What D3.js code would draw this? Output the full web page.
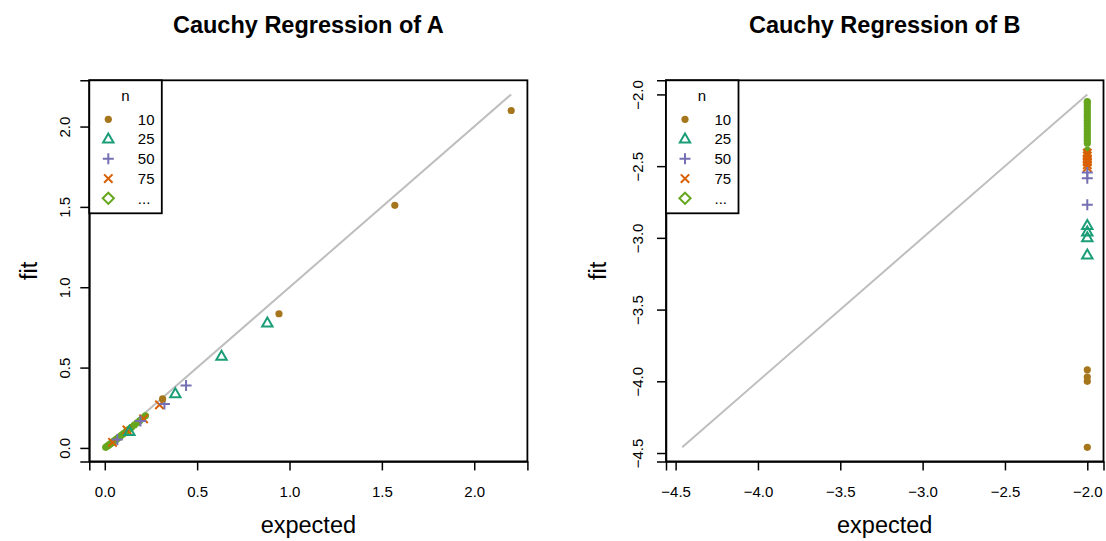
<!DOCTYPE html>
<html>
<head>
<meta charset="utf-8">
<script src="https://cdn.jsdelivr.net/npm/d3@7"></script>
<style>
  body { margin: 0; background: #fff; }
  text { font-family: "Liberation Sans", Arial, Helvetica, sans-serif; fill: #000; }
</style>
</head>
<body>
<svg id="chart" width="1106" height="541"></svg>
<script>
// legend groups (sample size n)
const groups = ["10", "25", "50", "75", "..."];
const groupColors = ["#A6761D", "#1B9E77", "#7570B3", "#D95F02", "#66A61E"];
const groupShapes = ["dot", "triangle", "plus", "cross", "dot"];
const legendShapes = ["dot", "triangle", "plus", "cross", "diamond"];

// parameter A: expected vs fitted
const aExp10 = [2.20, 1.57, 0.943, 0.313];
const aFit10 = [2.10, 1.51, 0.835, 0.305];
const aExp25 = [0.88, 0.632, 0.382, 0.133];
const aFit25 = [0.777, 0.570, 0.337, 0.102];
const aExp50 = [0.44, 0.323, 0.193, 0.068];
const aFit50 = [0.388, 0.274, 0.167, 0.052];
const aExp75 = [0.296, 0.21, 0.12, 0.042];
const aFit75 = [0.268, 0.181, 0.112, 0.035];
const aExpMore = [0.005, 0.012, 0.018, 0.025, 0.032, 0.04, 0.048, 0.056, 0.065, 0.075, 0.085,
  0.095, 0.106, 0.118, 0.13, 0.145, 0.16, 0.175, 0.19, 0.205, 0.22];
const aFitMore = [0.004, 0.010, 0.015, 0.021, 0.027, 0.034, 0.041, 0.048, 0.056, 0.065, 0.074,
  0.083, 0.093, 0.104, 0.115, 0.128, 0.142, 0.156, 0.17, 0.185, 0.20];

// parameter B: expected is -2 for every n
const bExp10 = [-2.0, -2.0, -2.0, -2.0];
const bFit10 = [-3.92, -3.97, -4.0, -4.46];
const bExp25 = [-2.0, -2.0, -2.0, -2.0];
const bFit25 = [-2.915, -2.96, -3.0, -3.12];
const bExp50 = [-2.0, -2.0, -2.0];
const bFit50 = [-2.545, -2.585, -2.77];
const bExp75 = [-2.0, -2.0, -2.0, -2.0, -2.0, -2.0];
const bFit75 = [-2.41, -2.43, -2.45, -2.47, -2.49, -2.51];
const bExpMore = [-2.0, -2.0, -2.0, -2.0, -2.0, -2.0, -2.0, -2.0, -2.0, -2.0, -2.0, -2.0, -2.0, -2.0, -2.0, -2.0, -2.0, -2.0];
const bFitMore = [-2.05, -2.06, -2.08, -2.10, -2.12, -2.14, -2.16, -2.18, -2.20, -2.22, -2.24,
  -2.26, -2.28, -2.30, -2.32, -2.34, -2.39, -2.40];

const aTicks = [0, 0.5, 1, 1.5, 2];
const bTicks = [-4.5, -4, -3.5, -3, -2.5, -2];

const svg = d3.select("#chart");
const plotTop = 80.3, plotBottom = 461.4;

function symbolPath(shape) {
  if (shape === "triangle") return "M0,-5.6L5.2,3.4L-5.2,3.4Z";
  if (shape === "plus") return "M-5.5,0H5.5M0,-5.5V5.5";
  if (shape === "cross") return "M-4.2,-4.2L4.2,4.2M-4.2,4.2L4.2,-4.2";
  if (shape === "diamond") return "M0,-5.6L5.6,0L0,5.6L-5.6,0Z";
  return null;
}

function drawMark(g, shape, color, x, y) {
  if (shape === "dot") {
    g.append("circle").attr("cx", x).attr("cy", y).attr("r", 3.6).attr("fill", color);
  } else {
    g.append("path")
      .attr("d", symbolPath(shape))
      .attr("transform", `translate(${x},${y})`)
      .attr("fill", "none")
      .attr("stroke", color)
      .attr("stroke-width", 2);
  }
}

function drawPanel(p) {
  const all = p.series.flatMap(s => s.exp.concat(s.fit));
  const lo = d3.min(all), hi = d3.max(all);
  const pad = (hi - lo) * 0.04;
  const x = d3.scaleLinear().domain([lo - pad, hi + pad]).range([p.left, p.right]);
  const y = d3.scaleLinear().domain([lo - pad, hi + pad]).range([plotBottom, plotTop]);
  const g = svg.append("g");

  // reference line y = x over the data range
  g.append("line")
    .attr("x1", x(lo)).attr("y1", y(lo))
    .attr("x2", x(hi)).attr("y2", y(hi))
    .attr("stroke", "#BEBEBE").attr("stroke-width", 2);

  // points, drawn from the last group back to the first
  p.series.slice().reverse().forEach(s => {
    s.exp.forEach((e, i) => drawMark(g, s.shape, s.color, x(e), y(s.fit[i])));
  });

  // axes
  const xAxis = g.append("g").attr("transform", `translate(0,${plotBottom})`)
    .call(d3.axisBottom(x).tickValues(p.ticks).tickFormat(d3.format(".1f")).tickSize(9).tickPadding(6));
  const yAxis = g.append("g").attr("transform", `translate(${p.left},0)`)
    .call(d3.axisLeft(y).tickValues(p.ticks).tickFormat(d3.format(".1f")).tickSize(9).tickPadding(6));
  [xAxis, yAxis].forEach(a => {
    a.select(".domain").attr("stroke-width", 1.5);
    a.selectAll(".tick line").attr("stroke-width", 1.5);
    a.selectAll(".tick text").style("font-size", "15px").attr("fill", "#000");
  });
  xAxis.selectAll(".tick text").attr("y", null).attr("dy", null).attr("transform", "translate(0,36)");
  yAxis.selectAll(".tick text")
    .attr("x", null).attr("dy", null)
    .attr("text-anchor", "middle")
    .attr("transform", `translate(${-p.tickGap},0) rotate(-90)`);

  // plot box
  g.append("rect")
    .attr("x", p.left).attr("y", plotTop)
    .attr("width", p.right - p.left).attr("height", plotBottom - plotTop)
    .attr("fill", "none").attr("stroke", "#000").attr("stroke-width", 1.8);

  // titles
  const cx = (p.left + p.right) / 2;
  g.append("text").attr("x", cx).attr("y", 33).attr("text-anchor", "middle")
    .style("font-size", "23.5px").style("font-weight", "bold").text(p.title);
  g.append("text").attr("x", cx).attr("y", 533).attr("text-anchor", "middle")
    .style("font-size", "23.5px").text("expected");
  g.append("text")
    .attr("transform", `translate(${p.left - p.labelGap},${(plotTop + plotBottom) / 2}) rotate(-90)`)
    .attr("text-anchor", "middle").style("font-size", "23.5px").text("fit");

  // legend
  const lg = g.append("g").attr("transform", `translate(${p.left},${plotTop})`);
  lg.append("rect").attr("width", 72.5).attr("height", 133)
    .attr("fill", "#fff").attr("stroke", "#000").attr("stroke-width", 1.8);
  lg.append("text").attr("x", 36).attr("y", 21).attr("text-anchor", "middle")
    .style("font-size", "15px").text("n");
  groups.forEach((name, i) => {
    const cy = 39 + i * 19.75;
    drawMark(lg, legendShapes[i], groupColors[i], 19, cy);
    lg.append("text").attr("x", 48.5).attr("y", cy + 5.4)
      .style("font-size", "15px").text(name);
  });
}

function makeSeries(exps, fits) {
  return exps.map((e, i) => ({ exp: e, fit: fits[i], color: groupColors[i], shape: groupShapes[i] }));
}

drawPanel({
  title: "Cauchy Regression of A",
  left: 89.3, right: 527.4,
  tickGap: 19, labelGap: 52,
  ticks: aTicks,
  series: makeSeries([aExp10, aExp25, aExp50, aExp75, aExpMore], [aFit10, aFit25, aFit50, aFit75, aFitMore])
});

drawPanel({
  title: "Cauchy Regression of B",
  left: 666, right: 1103.5,
  tickGap: 23.5, labelGap: 60,
  ticks: bTicks,
  series: makeSeries([bExp10, bExp25, bExp50, bExp75, bExpMore], [bFit10, bFit25, bFit50, bFit75, bFitMore])
});
</script>
</body>
</html>
